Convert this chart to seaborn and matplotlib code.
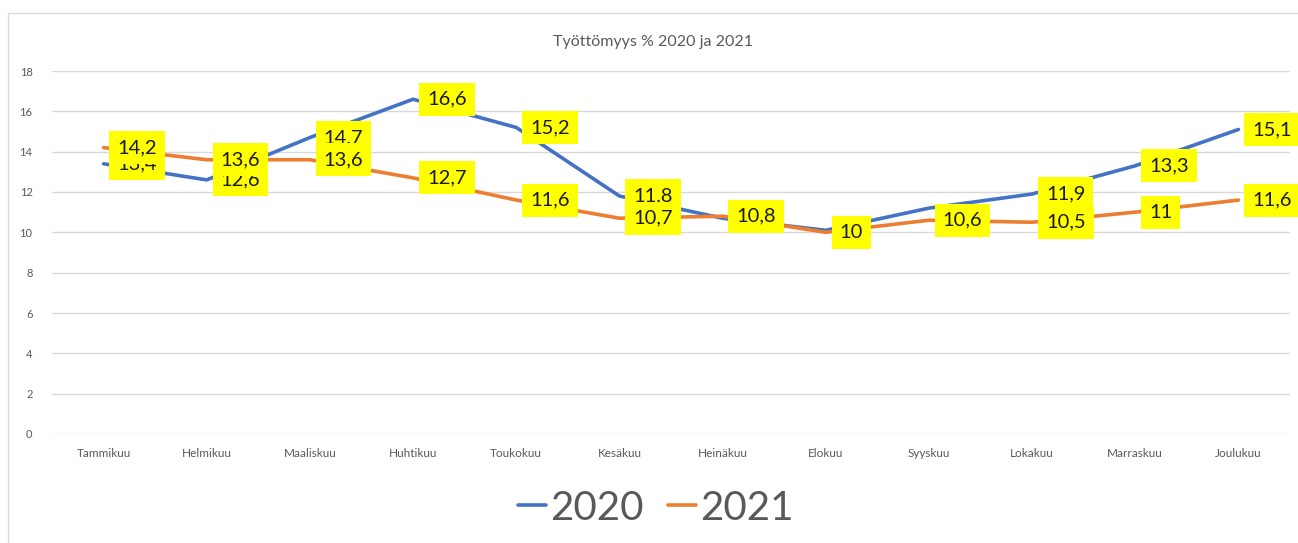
import matplotlib
matplotlib.use("Agg")
import matplotlib.pyplot as plt
from matplotlib.patches import Rectangle
import seaborn as sns
import pandas as pd

months = ["Tammikuu", "Helmikuu", "Maaliskuu", "Huhtikuu", "Toukokuu", "Kesäkuu",
          "Heinäkuu", "Elokuu", "Syyskuu", "Lokakuu", "Marraskuu", "Joulukuu"]
values_2020 = [13.4, 12.6, 14.7, 16.6, 15.2, 11.8, 10.7, 10.1, 11.2, 11.9, 13.3, 15.1]
values_2021 = [14.2, 13.6, 13.6, 12.7, 11.6, 10.7, 10.8, 10.0, 10.6, 10.5, 11.0, 11.6]
show_label_2020 = [True, True, True, True, True, True, False, False, False, True, True, True]
show_label_2021 = [True] * 12
years = ["2020", "2021"]
yticks = [0, 2, 4, 6, 8, 10, 12, 14, 16, 18]
title = "Työttömyys % 2020 ja 2021"

sns.set_theme(style="white")
plt.rcParams["font.family"] = ["Lato", "DejaVu Sans"]

df = pd.DataFrame({
    "pos": list(range(12)) * 2,
    "month": months * 2,
    "value": values_2020 + values_2021,
    "year": [years[0]] * 12 + [years[1]] * 12,
})

fig = plt.figure(figsize=(12.98, 5.43), dpi=100)
ax = fig.add_axes([52 / 1298, 1 - 434 / 543, (1290 - 52) / 1298, (434 - 71) / 543])

palette = {"2020": "#4472C4", "2021": "#ED7D31"}
sns.lineplot(data=df, x="pos", y="value", hue="year", palette=palette,
             linewidth=2.6, ax=ax, legend=False, sort=False, zorder=3)

ax.set_xlim(-0.5, 11.5)
ax.set_ylim(0, 18)
ax.set_yticks(yticks)
ax.set_yticklabels([str(t) for t in yticks], fontsize=8, color="#595959")
ax.set_xticks(range(12))
ax.set_xticklabels(months, fontsize=8.5, color="#595959")
ax.tick_params(axis="both", length=0, pad=10)
ax.tick_params(axis="y", pad=14)
ax.grid(axis="y", color="#d9d9d9", linewidth=1)
ax.set_axisbelow(True)
for s in ax.spines.values():
    s.set_visible(False)
ax.set_xlabel("")
ax.set_ylabel("")

box = dict(boxstyle="square,pad=0.4", facecolor="#FFFF00", edgecolor="none")
for vals, flags, z in [(values_2020, show_label_2020, 5), (values_2021, show_label_2021, 6)]:
    for i, (v, f) in enumerate(zip(vals, flags)):
        if not f:
            continue
        txt = f"{v:g}".replace(".", ",")
        ax.annotate(txt, (i, v), xytext=(10, 0), textcoords="offset points",
                    ha="left", va="center", fontsize=14.5, color="#1a1a1a",
                    bbox=box, zorder=z)

fig.text(0.503, 1 - 42 / 543, title, ha="center", va="center",
         fontsize=11.5, color="#595959")

handles = [plt.Line2D([], [], color=palette[y], linewidth=2.6) for y in years]
leg = fig.legend(handles, years, loc="center", bbox_to_anchor=(0.505, 1 - 508 / 543),
                 ncol=2, frameon=False, fontsize=29, handlelength=0.7,
                 handletextpad=0.1, columnspacing=0.6)
for t in leg.get_texts():
    t.set_color("#595959")

fig.patches.append(Rectangle((8 / 1298, -0.01), 1.0, 1 - 13 / 543 + 0.01,
                             transform=fig.transFigure, fill=False,
                             edgecolor="#d9d9d9", linewidth=1))

fig.savefig("out.png", dpi=100)
